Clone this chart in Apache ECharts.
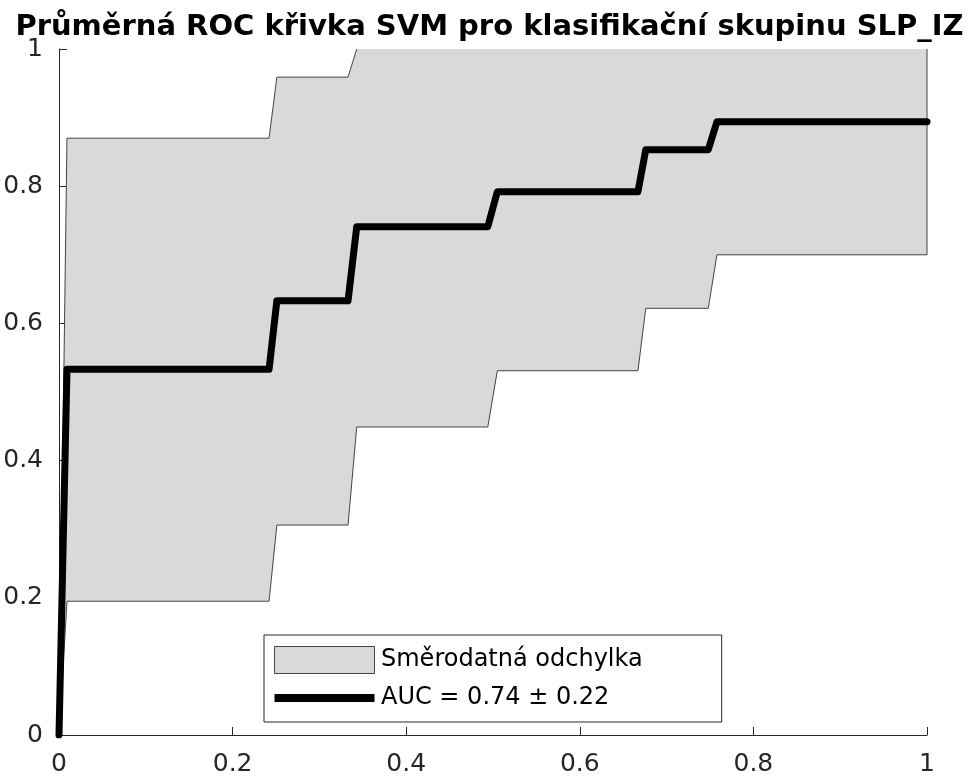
<!DOCTYPE html>
<html>
<head>
<meta charset="utf-8">
<script src="https://cdn.jsdelivr.net/npm/echarts@6/dist/echarts.min.js"></script>
<style>
html,body{margin:0;padding:0;background:#fff;}
#chart{width:979px;height:778px;}
</style>
</head>
<body>
<div id="chart"></div>
<script>
// ---- data ----
const titleText = 'Průměrná ROC křivka SVM pro klasifikační skupinu SLP_IZ';
const fpr     = [0, 0.0092, 0.242, 0.251, 0.333, 0.343, 0.494, 0.505, 0.667, 0.676, 0.748, 0.758, 1];
const meanTpr = [0, 0.533, 0.533, 0.633, 0.633, 0.741, 0.741, 0.792, 0.792, 0.853, 0.853, 0.894, 0.894];
const upperTpr= [0, 0.870, 0.870, 0.959, 0.959, 1, 1, 1, 1, 1, 1, 1, 1];
const lowerTpr= [0, 0.195, 0.195, 0.306, 0.306, 0.449, 0.449, 0.531, 0.531, 0.622, 0.622, 0.700, 0.700];
const tickValues = [0, 0.2, 0.4, 0.6, 0.8, 1];
const tickLabels = ['0', '0.2', '0.4', '0.6', '0.8', '1'];
const bandName = 'Směrodatná odchylka';
const meanName = 'AUC = 0.74 ± 0.22';

const FONT = 'DejaVu Sans';
const AX = '#262626';

function fmt(v) {
  for (let i = 0; i < tickValues.length; i++) {
    if (Math.abs(tickValues[i] - v) < 1e-9) return tickLabels[i];
  }
  return '';
}

const meanData = fpr.map((x, i) => [x, meanTpr[i]]);

const chart = echarts.init(document.getElementById('chart'), null, {renderer: 'canvas'});

const axisCommon = {
  type: 'value', min: 0, max: 1, interval: 0.2,
  axisLine: {show: true, lineStyle: {color: AX, width: 1}},
  axisTick: {show: true, inside: true, length: 8, lineStyle: {color: AX, width: 1}},
  splitLine: {show: false},
  axisLabel: {fontFamily: FONT, fontSize: 25, color: AX, formatter: fmt}
};

chart.setOption({
  animation: false,
  backgroundColor: '#fff',
  title: {
    text: titleText, left: 'center', top: 13, padding: [0, 0, 0, 7],
    textStyle: {fontFamily: FONT, fontWeight: 'bold', fontSize: 29, color: '#000'}
  },
  grid: {left: 59, right: 52, top: 49, bottom: 43, outerBoundsMode: 'none', containLabel: false},
  xAxis: Object.assign({}, axisCommon, {
    axisLabel: Object.assign({}, axisCommon.axisLabel, {margin: 17})
  }),
  yAxis: Object.assign({}, axisCommon, {
    axisLabel: Object.assign({}, axisCommon.axisLabel, {margin: 16})
  }),
  legend: {
    orient: 'vertical', left: 264, top: 635,
    padding: [11, 79, 12, 10],
    itemWidth: 100, itemHeight: 27, itemGap: 12,
    symbolKeepAspect: true,
    backgroundColor: '#fff', borderColor: AX, borderWidth: 1, borderRadius: 0,
    textStyle: {fontFamily: FONT, fontSize: 24, color: '#000', padding: [0, 0, 0, 1.5]},
    selectedMode: false,
    data: [
      {name: bandName, icon: 'rect', itemStyle: {color: '#d9d9d9', borderColor: '#444', borderWidth: 1}},
      {name: meanName, icon: 'path://M0,0H100V8H0Z', itemStyle: {color: '#000', borderWidth: 0}}
    ]
  },
  series: [
    {
      name: bandName,
      type: 'custom',
      coordinateSystem: 'cartesian2d',
      data: [[0, 0]],
      itemStyle: {color: '#d9d9d9'},
      renderItem: function (params, api) {
        const up = fpr.map((x, i) => api.coord([x, upperTpr[i]]));
        const lo = fpr.map((x, i) => api.coord([x, lowerTpr[i]]));
        const poly = up.concat(lo.slice().reverse());
        // outline: upper edge until it reaches 1, then lower edge, then right edge
        let firstOne = upperTpr.indexOf(1);
        if (firstOne < 0) firstOne = upperTpr.length - 1;
        const outline = up.slice(0, firstOne + 1).reverse()
          .concat(lo)
          .concat([up[up.length - 1]]);
        return {
          type: 'group',
          children: [
            {type: 'polygon', shape: {points: poly}, style: {fill: '#d9d9d9', stroke: null}},
            {type: 'polyline', shape: {points: outline}, style: {fill: null, stroke: '#444', lineWidth: 1}}
          ]
        };
      },
      z: 1
    },
    {
      name: meanName,
      type: 'line',
      data: meanData,
      showSymbol: false,
      symbol: 'none',
      lineStyle: {color: '#000', width: 7, join: 'round', cap: 'round'},
      itemStyle: {color: '#000'},
      z: 3
    }
  ]
});
</script>
</body>
</html>
